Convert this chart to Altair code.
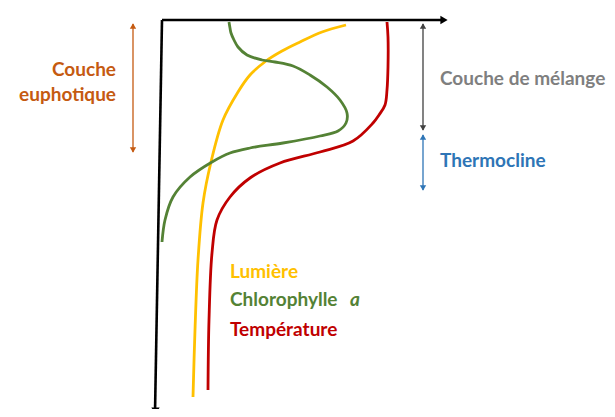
import altair as alt
import pandas as pd

# ---- curve data (horizontal position, depth) ----
light_x = [346, 322, 300, 282, 266, 250, 238, 223, 211, 203, 198, 195, 193]
light_y = [25, 32, 42, 51, 61, 75, 92, 120, 162, 203, 260, 330, 397]

chl_x = [229, 230, 231, 234, 238, 247, 262, 275, 293, 310, 327, 340, 347, 346, 338, 320, 283, 250, 230, 212, 190, 173, 165, 162]
chl_y = [22, 28, 33, 40, 47, 55, 60, 62, 66, 75, 87, 100, 113, 123, 131, 136, 143, 148, 153, 162, 177, 197, 220, 242]

temp_x = [387, 388, 388, 387, 385, 379, 373, 353, 320, 280, 250, 230, 217, 212, 209, 208]
temp_y = [22, 37, 67, 90, 105, 115, 123, 141, 152, 163, 178, 197, 220, 253, 320, 390]

series_names = ["Lumière", "Chlorophylle a", "Température"]
series_colors = ["#FFC000", "#548235", "#C00000"]

# ---- axes (schematic) ----
axis_x = [162, 155]
axis_y = [20, 413]
haxis_x = [162, 441]
haxis_y = [20, 20]

# ---- annotation brackets ----
ann_names = ["Couche euphotique", "Couche de mélange", "Thermocline"]
ann_x = [133, 423, 423]
ann_top = [24, 24, 135]
ann_bot = [152, 130, 190]
ann_colors = ["#C55A11", "#404040", "#2E75B6"]

# ---- labels ----
lab_text = ["Couche", "euphotique", "Couche de mélange", "Thermocline"]
lab_x = [116, 116, 440, 440]
lab_y = [76, 101, 85, 167]
lab_color = ["#C55A11", "#C55A11", "#7F7F7F", "#2E75B6"]
lab_align = ["right", "right", "left", "left"]

leg_text = ["Lumière", "Chlorophylle", "Température"]
leg_x = [230, 230, 230]
leg_y = [278, 306, 336]
leg_color = series_colors

X = alt.Scale(domain=[8, 607])
Y = alt.Scale(domain=[409, 8])
W, H = 599, 401


def xy(xf="x", yf="y"):
    return dict(x=alt.X(xf + ":Q", scale=X, axis=None),
                y=alt.Y(yf + ":Q", scale=Y, axis=None))


curves = []
for name, col, xs, ys in zip(series_names, series_colors,
                             [light_x, chl_x, temp_x], [light_y, chl_y, temp_y]):
    df = pd.DataFrame({"x": xs, "y": ys, "i": range(len(xs))})
    curves.append(
        alt.Chart(df).mark_line(color=col, strokeWidth=2.8, interpolate="catmull-rom", clip=False)
        .encode(order="i:Q", **xy())
    )

vaxis = alt.Chart(pd.DataFrame({"x": axis_x, "y": axis_y, "i": [0, 1]})).mark_line(
    color="black", strokeWidth=2.6, clip=False).encode(order="i:Q", **xy())
haxis = alt.Chart(pd.DataFrame({"x": haxis_x, "y": haxis_y, "i": [0, 1]})).mark_line(
    color="black", strokeWidth=2.6).encode(order="i:Q", **xy())
heads_axes = [
    alt.Chart(pd.DataFrame({"x": [444], "y": [20]})).mark_point(
        shape="triangle-right", filled=True, color="black", size=70, opacity=1).encode(**xy()),
    alt.Chart(pd.DataFrame({"x": [155.5], "y": [411]})).mark_point(
        shape="triangle-down", filled=True, color="black", size=70, opacity=1).encode(**xy()),
]

ann_layers = []
for xv, t, b, c in zip(ann_x, ann_top, ann_bot, ann_colors):
    ann_layers.append(
        alt.Chart(pd.DataFrame({"x": [xv], "y": [t], "y2": [b]})).mark_rule(
            color=c, strokeWidth=1.3).encode(y2="y2:Q", **xy()))
    ann_layers.append(
        alt.Chart(pd.DataFrame({"x": [xv], "y": [t + 2]})).mark_point(
            shape="triangle-up", filled=True, color=c, size=40, opacity=1).encode(**xy()))
    ann_layers.append(
        alt.Chart(pd.DataFrame({"x": [xv], "y": [b - 2]})).mark_point(
            shape="triangle-down", filled=True, color=c, size=40, opacity=1).encode(**xy()))

lab_df = pd.DataFrame({"x": lab_x, "y": lab_y, "t": lab_text, "c": lab_color, "a": lab_align})
labels = []
for al in ["left", "right"]:
    labels.append(
        alt.Chart(lab_df[lab_df.a == al]).mark_text(
            align=al, baseline="alphabetic", font="Lato", fontWeight="bold", fontSize=19)
        .encode(text="t:N", color=alt.Color("c:N", scale=None), **xy()))

leg_df = pd.DataFrame({"x": leg_x, "y": leg_y, "t": leg_text, "c": leg_color})
legend = alt.Chart(leg_df).mark_text(
    align="left", baseline="alphabetic", font="Lato", fontWeight="bold", fontSize=19
).encode(text="t:N", color=alt.Color("c:N", scale=None), **xy())
leg_a = alt.Chart(pd.DataFrame({"x": [350], "y": [306], "t": ["a"]})).mark_text(
    align="left", baseline="alphabetic", font="Lato", fontWeight="bold", fontStyle="italic",
    fontSize=19, color="#548235").encode(text="t:N", **xy())

chart = alt.layer(*curves, vaxis, haxis, *heads_axes, *ann_layers, *labels, legend, leg_a).properties(
    width=W, height=H, autosize=alt.AutoSizeParams(type="none"), padding=0
).configure_view(stroke=None)

chart.save("out.html", embed_options={"renderer": "svg", "actions": False})
